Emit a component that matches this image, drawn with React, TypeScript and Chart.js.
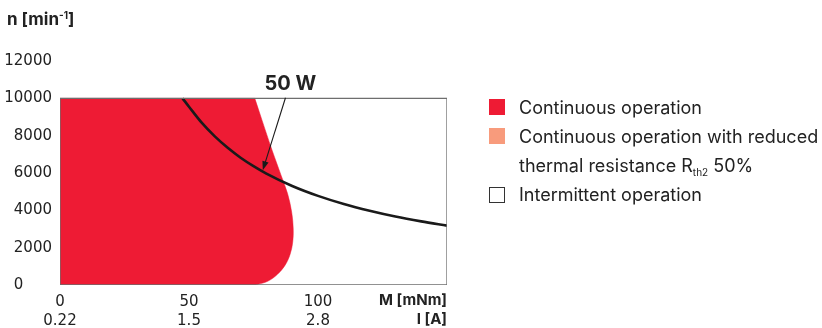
import React, { useEffect, useRef } from "react";
import { Chart, registerables } from "chart.js";

Chart.register(...registerables);

// ---- Data ----
const M_TICKS = [0, 50, 100];
const M_LABELS = ["0", "50", "100"];
const I_LABELS = ["0.22", "1.5", "2.8"];
const Y_TICKS = [0, 2000, 4000, 6000, 8000, 10000, 12000];

// Continuous operation region boundary (M [mNm], n [min^-1]); corners repeated to keep them sharp
const CONT_M = [0, 0, 0, 0, 75.5, 75.5, 78.2, 82.1, 85.6, 88.2, 89.8, 90.4, 90.2, 89.2, 87.2, 84.2, 80.5, 75.9, 75.9, 0, 0];
const CONT_N = [0, 0, 10000, 10000, 10000, 10000, 8870, 7260, 5910, 4900, 3900, 3000, 2300, 1650, 1050, 560, 200, 0, 0, 0, 0];

// 50 W power curve
const P50_M = [47.5, 50, 55, 60, 65, 70, 75, 80, 90, 100, 110, 120, 130, 140, 150];
const P50_N = [10000, 9550, 8680, 7960, 7350, 6820, 6370, 5970, 5305, 4775, 4340, 3980, 3670, 3410, 3180];

// Operating range box
const BOX_M = [0, 0, 150, 150, 0];
const BOX_N = [0, 10000, 10000, 0, 0];

// Annotation "50 W" (data coordinates)
const ANNOT_LABEL = { m: 89.3, n: 10750, text: "50 W" };
const ANNOT_ARROW_FROM = { m: 87.4, n: 10030 };
const ANNOT_ARROW_TO = { m: 78.6, n: 6150 };

const RED = "#EE1B34";
const SALMON = "#F89B7C";
const TEXT = "#222222";
const FONT = "Inter, 'Noto Sans', sans-serif";
const TICK_FONT = "'DejaVu Sans', sans-serif";

const toPts = (xs: number[], ys: number[]) => xs.map((x, i) => ({ x, y: ys[i] }));

const annotationPlugin = {
  id: "annot",
  afterDatasetsDraw(chart: any) {
    const { ctx, scales } = chart;
    const x = scales.x, y = scales.y;
    ctx.save();
    ctx.font = `bold 20px ${FONT}`;
    ctx.fillStyle = TEXT;
    ctx.textAlign = "center";
    ctx.textBaseline = "middle";
    ctx.fillText(ANNOT_LABEL.text, x.getPixelForValue(ANNOT_LABEL.m), y.getPixelForValue(ANNOT_LABEL.n));
    const x1 = x.getPixelForValue(ANNOT_ARROW_FROM.m), y1 = y.getPixelForValue(ANNOT_ARROW_FROM.n);
    const x2 = x.getPixelForValue(ANNOT_ARROW_TO.m), y2 = y.getPixelForValue(ANNOT_ARROW_TO.n);
    const ang = Math.atan2(y2 - y1, x2 - x1);
    const hl = 9, hw = 3.2;
    ctx.strokeStyle = "#1a1a1a";
    ctx.lineWidth = 1.1;
    ctx.beginPath();
    ctx.moveTo(x1, y1);
    ctx.lineTo(x2 - Math.cos(ang) * hl * 0.8, y2 - Math.sin(ang) * hl * 0.8);
    ctx.stroke();
    ctx.fillStyle = "#1a1a1a";
    ctx.beginPath();
    ctx.moveTo(x2, y2);
    ctx.lineTo(x2 - Math.cos(ang) * hl - Math.sin(ang) * hw, y2 - Math.sin(ang) * hl + Math.cos(ang) * hw);
    ctx.lineTo(x2 - Math.cos(ang) * hl + Math.sin(ang) * hw, y2 - Math.sin(ang) * hl - Math.cos(ang) * hw);
    ctx.closePath();
    ctx.fill();
    ctx.restore();
  },
};

export default function App() {
  const canvasRef = useRef<HTMLCanvasElement>(null);

  useEffect(() => {
    document.body.style.margin = "0";
    const chart = new Chart(canvasRef.current as HTMLCanvasElement, {
      type: "line",
      data: {
        datasets: [
          {
            label: "box",
            data: toPts(BOX_M, BOX_N),
            borderColor: "#6e6e6e",
            borderWidth: 1.3,
            pointRadius: 0,
            fill: false,
            tension: 0,
            order: 0,
          },
          {
            label: "50 W",
            data: toPts(P50_M, P50_N),
            borderColor: "#1a1a1a",
            borderWidth: 2.6,
            pointRadius: 0,
            fill: false,
            cubicInterpolationMode: "monotone",
            order: 1,
          },
          {
            label: "Continuous operation",
            data: toPts(CONT_M, CONT_N),
            borderColor: RED,
            backgroundColor: RED,
            borderWidth: 0.5,
            pointRadius: 0,
            fill: "shape",
            tension: 0.35,
            order: 2,
          },
        ] as any,
      },
      options: {
        animation: false,
        responsive: false,
        maintainAspectRatio: false,
        events: [],
        layout: { padding: { top: 61, right: 375, left: 0, bottom: 0 } },
        plugins: { legend: { display: false }, tooltip: { enabled: false } },
        scales: {
          x: {
            type: "linear",
            min: 0,
            max: 150,
            grid: { display: false, drawTicks: false },
            border: { display: false },
            afterFit: (s: any) => { s.height = 43; },
            afterBuildTicks: (s: any) => { s.ticks = M_TICKS.map((v) => ({ value: v })); },
            ticks: {
              padding: 8,
              color: TEXT,
              font: { family: TICK_FONT, size: 15, lineHeight: 1.25 },
              maxRotation: 0,
              autoSkip: false,
              callback: (v: any) => {
                const i = M_TICKS.indexOf(Number(v));
                return i < 0 ? "" : [M_LABELS[i], I_LABELS[i]];
              },
            },
          },
          y: {
            type: "linear",
            min: 0,
            max: 12000,
            grid: { display: false, drawTicks: false },
            border: { display: false },
            afterFit: (s: any) => { s.width = 60; },
            afterBuildTicks: (s: any) => { s.ticks = Y_TICKS.map((v) => ({ value: v })); },
            ticks: {
              crossAlign: "near",
              padding: 8,
              color: TEXT,
              font: { family: TICK_FONT, size: 15 },
              // the zero label sits left-aligned with the 4-digit labels (figure spaces pad it)
              callback: (v: any) => (Number(v) === 0 ? "0\u2007\u2007\u2007" : String(v)),
            },
          },
        },
      } as any,
      plugins: [annotationPlugin],
    });
    return () => chart.destroy();
  }, []);

  const legendText: React.CSSProperties = {
    position: "absolute",
    left: 519,
    fontFamily: FONT,
    fontSize: 18,
    color: TEXT,
    lineHeight: "20px",
    whiteSpace: "nowrap",
  };
  const sq = (top: number, bg: string, border?: string): React.CSSProperties => ({
    position: "absolute",
    left: 489,
    top,
    width: border ? 14 : 16,
    height: border ? 14 : 16,
    background: bg,
    border: border ? `1px solid ${border}` : undefined,
  });

  return (
    <div style={{ position: "absolute", left: 0, top: 0, width: 822, height: 328, background: "#fff" }}>
      <canvas ref={canvasRef} width={822} height={328} style={{ position: "absolute", left: 0, top: 0 }} />
      <div
        style={{
          position: "absolute",
          left: 7,
          top: 8,
          fontFamily: FONT,
          fontWeight: 700,
          fontSize: 17,
          color: TEXT,
          lineHeight: "22px",
        }}
      >
        n [min<sup style={{ fontSize: 10, verticalAlign: 6, lineHeight: 0 }}>-1</sup>]
      </div>
      <div
        style={{
          position: "absolute",
          right: 822 - 447,
          top: 290,
          fontFamily: FONT,
          fontWeight: 700,
          fontSize: 15,
          color: TEXT,
          lineHeight: "19px",
          textAlign: "right",
        }}
      >
        <div>M [mNm]</div>
        <div>I [A]</div>
      </div>
      <div style={sq(99, RED)} />
      <div style={{ ...legendText, top: 98 }}>Continuous operation</div>
      <div style={sq(128, SALMON)} />
      <div style={{ ...legendText, top: 127 }}>Continuous operation with reduced</div>
      <div style={{ ...legendText, top: 156 }}>
        thermal resistance R<sub style={{ fontSize: 10, verticalAlign: -4, lineHeight: 0 }}>th2</sub> 50%
      </div>
      <div style={sq(187, "#fff", "#333")} />
      <div style={{ ...legendText, top: 185 }}>Intermittent operation</div>
    </div>
  );
}
